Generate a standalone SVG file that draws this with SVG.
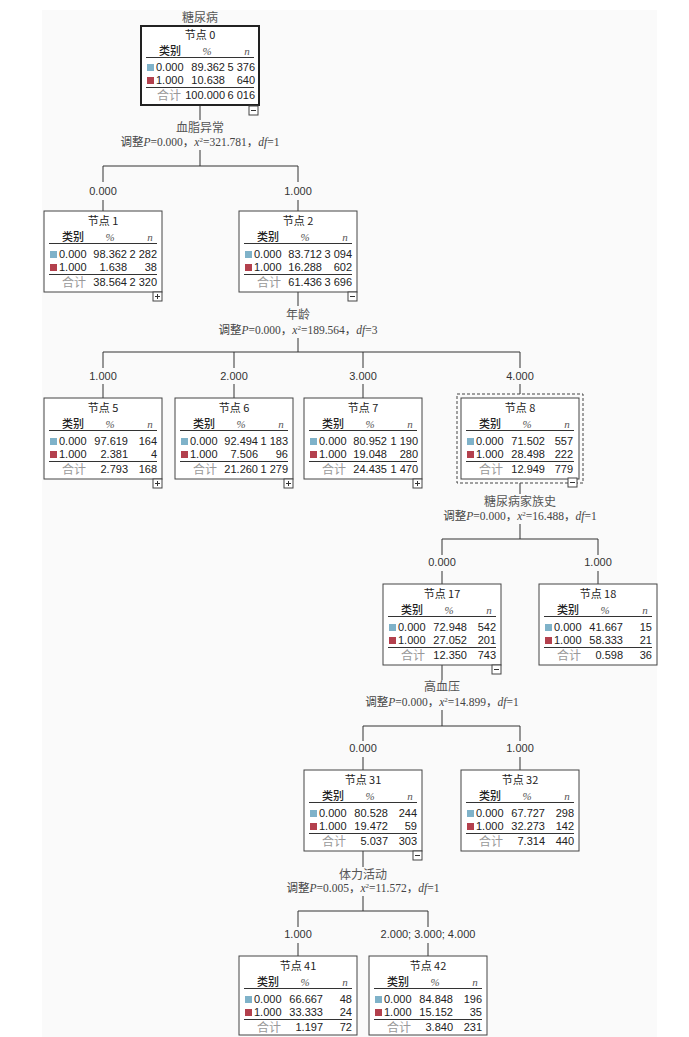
<svg xmlns="http://www.w3.org/2000/svg" width="689" height="1037" viewBox="0 0 689 1037">
<style>
.bg{fill:#fafafa}
.box{fill:#fff;stroke:#444;stroke-width:1}
.box0{fill:#fff;stroke:#222;stroke-width:2}
.dash{fill:none;stroke:#444;stroke-width:1;stroke-dasharray:3,2}
.ln{stroke:#333;stroke-width:1;fill:none}
.sep{stroke:#333;stroke-width:1}
.c0{fill:#7fb2c9}
.c1{fill:#b3404d}
.ttl{font-family:"Noto Sans CJK SC",sans-serif;font-size:11px;fill:#222;text-anchor:middle}
.hd{font-family:"Noto Sans CJK SC",sans-serif;font-size:11px;fill:#222;font-weight:500}
.it{font-family:"Liberation Serif",serif;font-style:italic;font-size:11px;fill:#555;text-anchor:middle}
.num{font-family:"Liberation Sans",sans-serif;font-size:11px;fill:#222}
.e{text-anchor:end}
.tot{font-family:"Noto Sans CJK SC",sans-serif;font-size:12px;fill:#999;text-anchor:middle}
.pm{fill:#fff;stroke:#444;stroke-width:1}
.var{font-family:"Liberation Serif","Noto Sans CJK SC",serif;font-size:12px;fill:#555;text-anchor:middle}
.st{font-family:"Liberation Serif","Noto Sans CJK SC",serif;font-size:11.5px;fill:#444;text-anchor:middle}
.st .i{font-style:italic}
.br{font-family:"Liberation Sans",sans-serif;font-size:11px;fill:#333;text-anchor:middle}
</style>
<defs>
<g id="minus"><rect class="pm" x="0" y="0" width="9" height="9"/><line class="sep" x1="2" y1="4.5" x2="7" y2="4.5"/></g>
<g id="plus"><rect class="pm" x="0" y="0" width="9" height="9"/><line class="sep" x1="2" y1="4.5" x2="7" y2="4.5"/><line class="sep" x1="4.5" y1="2" x2="4.5" y2="7"/></g>
</defs>
<rect class="bg" x="42" y="10" width="615" height="1027"/>

<g id="connectors">
<path class="ln" d="M200 105V120M200 150V166M103 166H298M103 166V182M298 166V182M103 200V211M298 200V211"/>
<path class="ln" d="M298 292V306M298 338V352M103 352H520M103 352V368M234 352V368M363 352V368M520 352V368M103 384V398M234 384V398M363 384V398M520 384V394"/>
<path class="ln" d="M520 483V494M520 524V539M442 539H598M442 539V555M598 539V555M442 571V584M598 571V584"/>
<path class="ln" d="M442 665V680M442 710V726M363 726H520M363 726V741M520 726V741M363 757V770M520 757V770"/>
<path class="ln" d="M363 851V867M363 896V911M298 911H428M298 911V927M428 911V927M298 943V956M428 943V956"/>
<text class="var" x="200" y="22">糖尿病</text>
<text class="var" x="200" y="132">血脂异常</text>
<text class="st" x="200" y="146">调整<tspan class="i">P</tspan>=0.000，<tspan class="i">x</tspan><tspan font-size="7" baseline-shift="super">2</tspan>=321.781，<tspan class="i">df</tspan>=1</text>
<text class="br" x="103" y="195">0.000</text>
<text class="br" x="298" y="195">1.000</text>
<text class="var" x="298" y="319">年龄</text>
<text class="st" x="298" y="334">调整<tspan class="i">P</tspan>=0.000，<tspan class="i">x</tspan><tspan font-size="7" baseline-shift="super">2</tspan>=189.564，<tspan class="i">df</tspan>=3</text>
<text class="br" x="103" y="380">1.000</text>
<text class="br" x="234" y="380">2.000</text>
<text class="br" x="363" y="380">3.000</text>
<text class="br" x="520" y="380">4.000</text>
<text class="var" x="520" y="506">糖尿病家族史</text>
<text class="st" x="520" y="520">调整<tspan class="i">P</tspan>=0.000，<tspan class="i">x</tspan><tspan font-size="7" baseline-shift="super">2</tspan>=16.488，<tspan class="i">df</tspan>=1</text>
<text class="br" x="442" y="566">0.000</text>
<text class="br" x="598" y="566">1.000</text>
<text class="var" x="442" y="691">高血压</text>
<text class="st" x="442" y="706">调整<tspan class="i">P</tspan>=0.000，<tspan class="i">x</tspan><tspan font-size="7" baseline-shift="super">2</tspan>=14.899，<tspan class="i">df</tspan>=1</text>
<text class="br" x="363" y="752">0.000</text>
<text class="br" x="520" y="752">1.000</text>
<text class="var" x="363" y="879">体力活动</text>
<text class="st" x="363" y="892">调整<tspan class="i">P</tspan>=0.005，<tspan class="i">x</tspan><tspan font-size="7" baseline-shift="super">2</tspan>=11.572，<tspan class="i">df</tspan>=1</text>
<text class="br" x="298" y="938">1.000</text>
<text class="br" x="428" y="938">2.000; 3.000; 4.000</text>
</g>

<g id="node0" transform="translate(141,26)">
<rect class="box0" width="118" height="79"/>
<text class="ttl" x="59" y="13">节点 0</text>
<text class="hd" x="18" y="29">类别</text><text class="it" x="66" y="29">%</text><text class="it" x="106" y="29">n</text>
<line class="sep" x1="5" y1="31.5" x2="113" y2="31.5"/>
<rect class="c0" x="6" y="38" width="7" height="7"/><text class="num" x="15" y="45">0.000</text><text class="num e" x="84" y="45">89.362</text><text class="num e" x="114" y="45">5 376</text>
<rect class="c1" x="6" y="51" width="7" height="7"/><text class="num" x="15" y="58">1.000</text><text class="num e" x="84" y="58">10.638</text><text class="num e" x="114" y="58">640</text>
<line class="sep" x1="5" y1="61.5" x2="113" y2="61.5"/>
<text class="tot" x="28" y="74">合计</text><text class="num e" x="84" y="73">100.000</text><text class="num e" x="114" y="73">6 016</text>
<use href="#minus" x="108" y="80"/>
</g>

<g id="node1" transform="translate(44,211)">
<rect class="box" width="118" height="81"/>
<text class="ttl" x="59" y="14">节点 1</text>
<text class="hd" x="18" y="30">类别</text><text class="it" x="66" y="30">%</text><text class="it" x="106" y="30">n</text>
<line class="sep" x1="5" y1="32.5" x2="113" y2="32.5"/>
<rect class="c0" x="6" y="40" width="7" height="7"/><text class="num" x="15" y="47">0.000</text><text class="num e" x="83" y="47">98.362</text><text class="num e" x="113" y="47">2 282</text>
<rect class="c1" x="6" y="53" width="7" height="7"/><text class="num" x="15" y="60">1.000</text><text class="num e" x="83" y="60">1.638</text><text class="num e" x="113" y="60">38</text>
<line class="sep" x1="5" y1="63.5" x2="113" y2="63.5"/>
<text class="tot" x="30" y="76">合计</text><text class="num e" x="83" y="75">38.564</text><text class="num e" x="113" y="75">2 320</text>
<use href="#plus" x="109" y="81"/>
</g>

<g id="node2" transform="translate(239,211)">
<rect class="box" width="118" height="81"/>
<text class="ttl" x="59" y="14">节点 2</text>
<text class="hd" x="18" y="30">类别</text><text class="it" x="66" y="30">%</text><text class="it" x="106" y="30">n</text>
<line class="sep" x1="5" y1="32.5" x2="113" y2="32.5"/>
<rect class="c0" x="6" y="40" width="7" height="7"/><text class="num" x="15" y="47">0.000</text><text class="num e" x="83" y="47">83.712</text><text class="num e" x="113" y="47">3 094</text>
<rect class="c1" x="6" y="53" width="7" height="7"/><text class="num" x="15" y="60">1.000</text><text class="num e" x="83" y="60">16.288</text><text class="num e" x="113" y="60">602</text>
<line class="sep" x1="5" y1="63.5" x2="113" y2="63.5"/>
<text class="tot" x="30" y="76">合计</text><text class="num e" x="83" y="75">61.436</text><text class="num e" x="113" y="75">3 696</text>
<use href="#minus" x="109" y="81"/>
</g>

<g id="node5" transform="translate(44,398)">
<rect class="box" width="118" height="81"/>
<text class="ttl" x="59" y="14">节点 5</text>
<text class="hd" x="18" y="30">类别</text><text class="it" x="66" y="30">%</text><text class="it" x="106" y="30">n</text>
<line class="sep" x1="5" y1="32.5" x2="113" y2="32.5"/>
<rect class="c0" x="6" y="40" width="7" height="7"/><text class="num" x="15" y="47">0.000</text><text class="num e" x="84" y="47">97.619</text><text class="num e" x="113" y="47">164</text>
<rect class="c1" x="6" y="53" width="7" height="7"/><text class="num" x="15" y="60">1.000</text><text class="num e" x="84" y="60">2.381</text><text class="num e" x="113" y="60">4</text>
<line class="sep" x1="5" y1="63.5" x2="113" y2="63.5"/>
<text class="tot" x="30" y="76">合计</text><text class="num e" x="84" y="75">2.793</text><text class="num e" x="113" y="75">168</text>
<use href="#plus" x="109" y="81"/>
</g>

<g id="node6" transform="translate(175,398)">
<rect class="box" width="118" height="81"/>
<text class="ttl" x="59" y="14">节点 6</text>
<text class="hd" x="18" y="30">类别</text><text class="it" x="66" y="30">%</text><text class="it" x="106" y="30">n</text>
<line class="sep" x1="5" y1="32.5" x2="113" y2="32.5"/>
<rect class="c0" x="6" y="40" width="7" height="7"/><text class="num" x="15" y="47">0.000</text><text class="num e" x="83" y="47">92.494</text><text class="num e" x="113" y="47">1 183</text>
<rect class="c1" x="6" y="53" width="7" height="7"/><text class="num" x="15" y="60">1.000</text><text class="num e" x="83" y="60">7.506</text><text class="num e" x="113" y="60">96</text>
<line class="sep" x1="5" y1="63.5" x2="113" y2="63.5"/>
<text class="tot" x="30" y="76">合计</text><text class="num e" x="83" y="75">21.260</text><text class="num e" x="113" y="75">1 279</text>
<use href="#plus" x="109" y="81"/>
</g>

<g id="node7" transform="translate(304,398)">
<rect class="box" width="118" height="81"/>
<text class="ttl" x="59" y="14">节点 7</text>
<text class="hd" x="18" y="30">类别</text><text class="it" x="66" y="30">%</text><text class="it" x="106" y="30">n</text>
<line class="sep" x1="5" y1="32.5" x2="113" y2="32.5"/>
<rect class="c0" x="6" y="40" width="7" height="7"/><text class="num" x="15" y="47">0.000</text><text class="num e" x="83" y="47">80.952</text><text class="num e" x="114" y="47">1 190</text>
<rect class="c1" x="6" y="53" width="7" height="7"/><text class="num" x="15" y="60">1.000</text><text class="num e" x="83" y="60">19.048</text><text class="num e" x="114" y="60">280</text>
<line class="sep" x1="5" y1="63.5" x2="113" y2="63.5"/>
<text class="tot" x="30" y="76">合计</text><text class="num e" x="83" y="75">24.435</text><text class="num e" x="114" y="75">1 470</text>
<use href="#plus" x="109" y="81"/>
</g>

<g id="node8" transform="translate(461,398)">
<rect class="dash" x="-4" y="-4" width="126" height="89"/>
<rect class="box" width="118" height="81"/>
<text class="ttl" x="59" y="14">节点 8</text>
<text class="hd" x="18" y="30">类别</text><text class="it" x="66" y="30">%</text><text class="it" x="106" y="30">n</text>
<line class="sep" x1="5" y1="32.5" x2="113" y2="32.5"/>
<rect class="c0" x="6" y="40" width="7" height="7"/><text class="num" x="15" y="47">0.000</text><text class="num e" x="84" y="47">71.502</text><text class="num e" x="112" y="47">557</text>
<rect class="c1" x="6" y="53" width="7" height="7"/><text class="num" x="15" y="60">1.000</text><text class="num e" x="84" y="60">28.498</text><text class="num e" x="112" y="60">222</text>
<line class="sep" x1="5" y1="63.5" x2="113" y2="63.5"/>
<text class="tot" x="30" y="76">合计</text><text class="num e" x="84" y="75">12.949</text><text class="num e" x="112" y="75">779</text>
<use href="#minus" x="107" y="80"/>
</g>

<g id="node17" transform="translate(383,584)">
<rect class="box" width="118" height="81"/>
<text class="ttl" x="59" y="14">节点 17</text>
<text class="hd" x="18" y="30">类别</text><text class="it" x="66" y="30">%</text><text class="it" x="106" y="30">n</text>
<line class="sep" x1="5" y1="32.5" x2="113" y2="32.5"/>
<rect class="c0" x="6" y="40" width="7" height="7"/><text class="num" x="15" y="47">0.000</text><text class="num e" x="84" y="47">72.948</text><text class="num e" x="113" y="47">542</text>
<rect class="c1" x="6" y="53" width="7" height="7"/><text class="num" x="15" y="60">1.000</text><text class="num e" x="84" y="60">27.052</text><text class="num e" x="113" y="60">201</text>
<line class="sep" x1="5" y1="63.5" x2="113" y2="63.5"/>
<text class="tot" x="30" y="76">合计</text><text class="num e" x="84" y="75">12.350</text><text class="num e" x="113" y="75">743</text>
<use href="#minus" x="109" y="81"/>
</g>

<g id="node18" transform="translate(539,584)">
<rect class="box" width="118" height="81"/>
<text class="ttl" x="59" y="14">节点 18</text>
<text class="hd" x="18" y="30">类别</text><text class="it" x="66" y="30">%</text><text class="it" x="106" y="30">n</text>
<line class="sep" x1="5" y1="32.5" x2="113" y2="32.5"/>
<rect class="c0" x="6" y="40" width="7" height="7"/><text class="num" x="15" y="47">0.000</text><text class="num e" x="84" y="47">41.667</text><text class="num e" x="113" y="47">15</text>
<rect class="c1" x="6" y="53" width="7" height="7"/><text class="num" x="15" y="60">1.000</text><text class="num e" x="84" y="60">58.333</text><text class="num e" x="113" y="60">21</text>
<line class="sep" x1="5" y1="63.5" x2="113" y2="63.5"/>
<text class="tot" x="30" y="76">合计</text><text class="num e" x="84" y="75">0.598</text><text class="num e" x="113" y="75">36</text>
</g>

<g id="node31" transform="translate(304,770)">
<rect class="box" width="118" height="81"/>
<text class="ttl" x="59" y="14">节点 31</text>
<text class="hd" x="18" y="30">类别</text><text class="it" x="66" y="30">%</text><text class="it" x="106" y="30">n</text>
<line class="sep" x1="5" y1="32.5" x2="113" y2="32.5"/>
<rect class="c0" x="6" y="40" width="7" height="7"/><text class="num" x="15" y="47">0.000</text><text class="num e" x="84" y="47">80.528</text><text class="num e" x="113" y="47">244</text>
<rect class="c1" x="6" y="53" width="7" height="7"/><text class="num" x="15" y="60">1.000</text><text class="num e" x="84" y="60">19.472</text><text class="num e" x="113" y="60">59</text>
<line class="sep" x1="5" y1="63.5" x2="113" y2="63.5"/>
<text class="tot" x="30" y="76">合计</text><text class="num e" x="84" y="75">5.037</text><text class="num e" x="113" y="75">303</text>
<use href="#minus" x="109" y="81"/>
</g>

<g id="node32" transform="translate(461,770)">
<rect class="box" width="118" height="81"/>
<text class="ttl" x="59" y="14">节点 32</text>
<text class="hd" x="18" y="30">类别</text><text class="it" x="66" y="30">%</text><text class="it" x="106" y="30">n</text>
<line class="sep" x1="5" y1="32.5" x2="113" y2="32.5"/>
<rect class="c0" x="6" y="40" width="7" height="7"/><text class="num" x="15" y="47">0.000</text><text class="num e" x="84" y="47">67.727</text><text class="num e" x="113" y="47">298</text>
<rect class="c1" x="6" y="53" width="7" height="7"/><text class="num" x="15" y="60">1.000</text><text class="num e" x="84" y="60">32.273</text><text class="num e" x="113" y="60">142</text>
<line class="sep" x1="5" y1="63.5" x2="113" y2="63.5"/>
<text class="tot" x="30" y="76">合计</text><text class="num e" x="84" y="75">7.314</text><text class="num e" x="113" y="75">440</text>
</g>

<g id="node41" transform="translate(239,956)">
<rect class="box" width="118" height="79"/>
<text class="ttl" x="59" y="14">节点 41</text>
<text class="hd" x="18" y="30">类别</text><text class="it" x="66" y="30">%</text><text class="it" x="106" y="30">n</text>
<line class="sep" x1="5" y1="32.5" x2="113" y2="32.5"/>
<rect class="c0" x="6" y="40" width="7" height="7"/><text class="num" x="15" y="47">0.000</text><text class="num e" x="84" y="47">66.667</text><text class="num e" x="113" y="47">48</text>
<rect class="c1" x="6" y="53" width="7" height="7"/><text class="num" x="15" y="60">1.000</text><text class="num e" x="84" y="60">33.333</text><text class="num e" x="113" y="60">24</text>
<line class="sep" x1="5" y1="63.5" x2="113" y2="63.5"/>
<text class="tot" x="30" y="76">合计</text><text class="num e" x="84" y="75">1.197</text><text class="num e" x="113" y="75">72</text>
</g>

<g id="node42" transform="translate(369,956)">
<rect class="box" width="118" height="79"/>
<text class="ttl" x="59" y="14">节点 42</text>
<text class="hd" x="18" y="30">类别</text><text class="it" x="66" y="30">%</text><text class="it" x="106" y="30">n</text>
<line class="sep" x1="5" y1="32.5" x2="113" y2="32.5"/>
<rect class="c0" x="6" y="40" width="7" height="7"/><text class="num" x="15" y="47">0.000</text><text class="num e" x="84" y="47">84.848</text><text class="num e" x="113" y="47">196</text>
<rect class="c1" x="6" y="53" width="7" height="7"/><text class="num" x="15" y="60">1.000</text><text class="num e" x="84" y="60">15.152</text><text class="num e" x="113" y="60">35</text>
<line class="sep" x1="5" y1="63.5" x2="113" y2="63.5"/>
<text class="tot" x="30" y="76">合计</text><text class="num e" x="84" y="75">3.840</text><text class="num e" x="113" y="75">231</text>
</g>
</svg>
